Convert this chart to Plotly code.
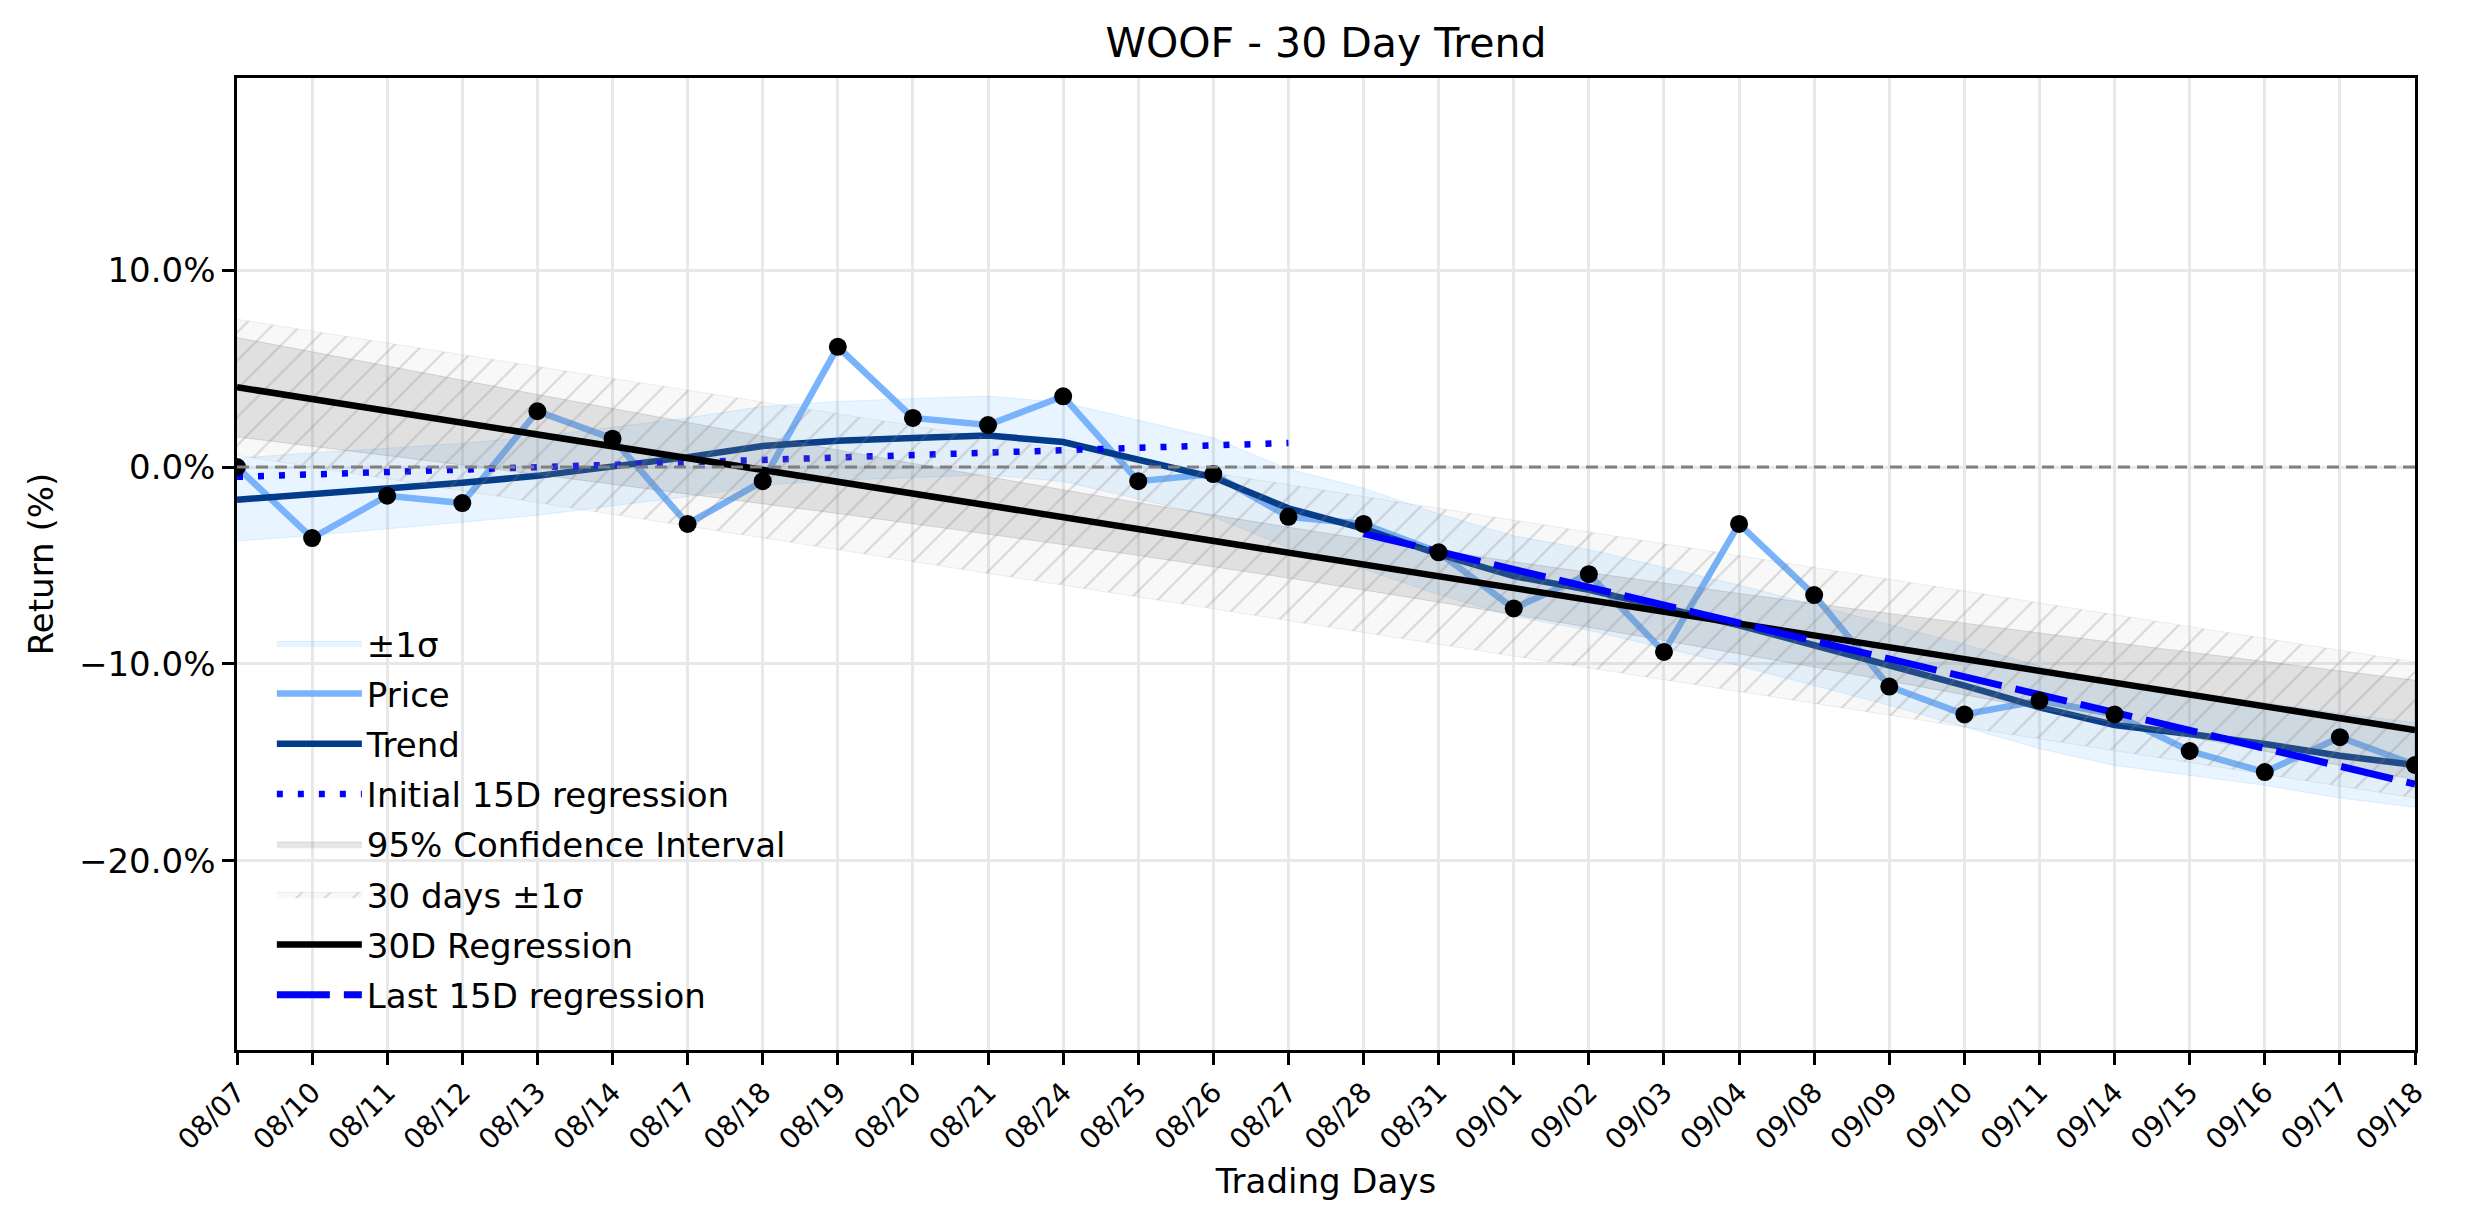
import plotly.graph_objects as go

# trading days on the x axis
dates = ["08/07", "08/10", "08/11", "08/12", "08/13", "08/14", "08/17", "08/18",
         "08/19", "08/20", "08/21", "08/24", "08/25", "08/26", "08/27", "08/28",
         "08/31", "09/01", "09/02", "09/03", "09/04", "09/08", "09/09", "09/10",
         "09/11", "09/14", "09/15", "09/16", "09/17", "09/18"]

# cumulative return (%)
price = [0.0, -3.61, -1.46, -1.83, 2.83, 1.44, -2.89, -0.72, 6.10, 2.49,
         2.13, 3.59, -0.72, -0.36, -2.53, -2.89, -4.33, -7.18, -5.44, -9.39,
         -2.89, -6.50, -11.15, -12.56, -11.86, -12.56, -14.42, -15.49, -13.72, -15.13]

# smoothed trend and its +/-1 sigma
trend = [-1.66, -1.38, -1.10, -0.80, -0.45, 0.02, 0.50, 1.07, 1.33, 1.47,
         1.60, 1.27, 0.38, -0.52, -2.10, -3.13, -4.43, -5.54, -6.24, -7.14,
         -8.04, -9.05, -10.05, -11.10, -12.20, -13.10, -13.56, -14.06, -14.66, -15.13]
trend_sigma = [2.10, 2.10, 2.05, 2.00, 2.00, 2.00, 2.00, 2.00, 2.00, 2.00,
               2.00, 2.00, 2.00, 2.00, 2.00, 2.05, 2.05, 2.05, 2.05, 2.05,
               2.05, 2.05, 2.05, 2.10, 2.10, 2.05, 2.10, 2.10, 2.15, 2.15]

# 30 day regression, its 95% confidence interval and +/-1 sigma band
reg30 = [4.05, -13.35]
ci_upper = [6.57, 5.84, 5.12, 4.40, 3.68, 2.97, 2.26, 1.56, 0.86, 0.18,
            -0.50, -1.16, -1.81, -2.44, -3.06, -3.66, -4.24, -4.81, -5.36, -5.90,
            -6.42, -6.94, -7.44, -7.94, -8.43, -8.92, -9.40, -9.88, -10.36, -10.83]
ci_lower = [1.53, 1.06, 0.58, 0.10, -0.38, -0.87, -1.36, -1.86, -2.36, -2.88,
            -3.40, -3.94, -4.49, -5.06, -5.64, -6.24, -6.86, -7.49, -8.14, -8.80,
            -9.48, -10.16, -10.86, -11.56, -12.27, -12.98, -13.70, -14.42, -15.14, -15.87]
sigma30_upper = [7.50, -9.90]
sigma30_lower = [0.60, -16.80]

# 15 day regressions (first and last half)
reg_first15 = [-0.50, 1.22]
reg_last15 = [-3.38, -16.10]

ends = [dates[0], dates[-1]]
first15 = [dates[0], dates[14]]
last15 = [dates[15], dates[-1]]

band_up = [t + s for t, s in zip(trend, trend_sigma)]
band_lo = [t - s for t, s in zip(trend, trend_sigma)]

FONT = "DejaVu Sans"

fig = go.Figure()

fig.add_trace(go.Scatter(
    x=dates + dates[::-1], y=band_up + band_lo[::-1],
    fill="toself", fillcolor="rgba(30,144,255,0.1)",
    line=dict(color="rgba(30,144,255,0.12)", width=1),
    mode="lines", name="±1σ", legendgroup="a", hoverinfo="skip"))

fig.add_trace(go.Scatter(
    x=dates, y=price, mode="lines", name="Price", legendgroup="b",
    line=dict(color="#78b3fb", width=6.5)))

fig.add_trace(go.Scatter(
    x=dates, y=trend, mode="lines", name="Trend", legendgroup="c",
    line=dict(color="#023b8a", width=6.5)))

fig.add_trace(go.Scatter(
    x=first15, y=reg_first15, mode="lines", name="Initial 15D regression", legendgroup="d",
    line=dict(color="#0000ff", width=6.5, dash="6px,15px")))

fig.add_trace(go.Scatter(
    x=dates + dates[::-1], y=ci_upper + ci_lower[::-1],
    fill="toself", fillcolor="rgba(128,128,128,0.2)",
    line=dict(color="rgba(128,128,128,0.25)", width=1),
    mode="lines", name="95% Confidence Interval", legendgroup="e", hoverinfo="skip"))

fig.add_trace(go.Scatter(
    x=ends + ends[::-1], y=sigma30_upper + sigma30_lower[::-1],
    fill="toself", fillcolor="rgba(128,128,128,0.05)",
    fillpattern=dict(shape="/", fgcolor="rgb(128,128,128)", fgopacity=0.28,
                     size=20, solidity=0.1, fillmode="overlay"),
    line=dict(color="rgba(128,128,128,0.12)", width=1),
    mode="lines", name="30 days ±1σ", legendgroup="f", hoverinfo="skip"))

fig.add_trace(go.Scatter(
    x=ends, y=reg30, mode="lines", name="30D Regression", legendgroup="g",
    line=dict(color="black", width=6.5)))

fig.add_trace(go.Scatter(
    x=last15, y=reg_last15, mode="lines", name="Last 15D regression", legendgroup="h",
    line=dict(color="#0000ff", width=7, dash="53px,14px")))

fig.add_trace(go.Scatter(
    x=dates, y=price, mode="markers", showlegend=False,
    marker=dict(color="black", size=18)))

fig.add_hline(y=0, line=dict(color="gray", width=3, dash="12px,7px"))

fig.update_layout(
    width=2474, height=1224,
    margin=dict(l=237, r=59, t=78, b=174),
    plot_bgcolor="white", paper_bgcolor="white",
    font=dict(family=FONT, size=34, color="black"),
    title=dict(text="WOOF - 30 Day Trend", xref="paper", x=0.5, xanchor="center",
               yref="container", y=0.965, yanchor="middle", font=dict(size=41)),
    legend=dict(x=0.016, y=0.027, xanchor="left", yanchor="bottom",
                bgcolor="rgba(0,0,0,0)", font=dict(size=34),
                traceorder="grouped", tracegroupgap=3, itemwidth=85),
    showlegend=True,
)

fig.update_xaxes(
    type="category", range=[0, len(dates) - 1],
    tickangle=-45, tickfont=dict(size=28),
    ticks="outside", ticklen=12, tickwidth=2.5, tickcolor="black",
    showline=True, linecolor="black", linewidth=2.5, mirror=True,
    showgrid=True, gridcolor="#e8e8e8", gridwidth=2.5,
    title=dict(text="Trading Days", standoff=14, font=dict(size=34)),
)

fig.update_yaxes(
    range=[-29.6, 19.75],
    tickvals=[-20, -10, 0, 10], ticktext=["−20.0%", "−10.0%", "0.0%", "10.0%"],
    ticks="outside", ticklen=12, tickwidth=2.5, tickcolor="black",
    showline=True, linecolor="black", linewidth=2.5, mirror=True,
    showgrid=True, gridcolor="#e8e8e8", gridwidth=2.5, zeroline=False,
    title=dict(text="Return (%)", standoff=16, font=dict(size=34)),
)

fig.write_html("out.html", config={"displayModeBar": False},
               post_script="document.body.style.margin = '0';")
